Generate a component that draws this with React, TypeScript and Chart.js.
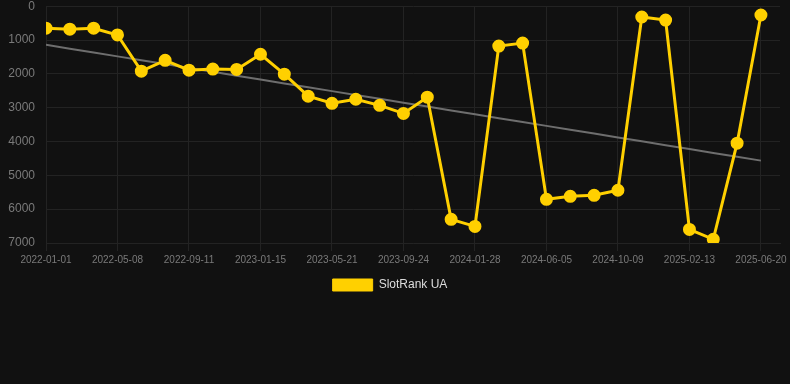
import React, { useEffect, useRef } from "react";
import { Chart, registerables } from "chart.js";

Chart.register(...registerables);

const dates: string[] = [
  "2022-01-01", "2022-02-12", "2022-03-26", "2022-05-08", "2022-06-19", "2022-07-31",
  "2022-09-11", "2022-10-23", "2022-12-04", "2023-01-15", "2023-02-26", "2023-04-09",
  "2023-05-21", "2023-07-02", "2023-08-13", "2023-09-24", "2023-11-05", "2023-12-17",
  "2024-01-28", "2024-03-10", "2024-04-22", "2024-06-05", "2024-07-17", "2024-08-28",
  "2024-10-09", "2024-11-20", "2025-01-01", "2025-02-13", "2025-03-27", "2025-05-08",
  "2025-06-20",
];

const rankValues: number[] = [
  650, 680, 650, 850, 1920, 1600, 1890, 1860, 1870, 1420, 2010, 2660, 2870, 2750, 2930,
  3170, 2690, 6300, 6510, 1180, 1090, 5710, 5620, 5590, 5440, 320, 410, 6600, 6890, 4050,
  260,
];

const seriesLabel = "SlotRank UA";

function trend(values: number[]): number[] {
  const n = values.length;
  const mx = (n - 1) / 2;
  const my = values.reduce((a, b) => a + b, 0) / n;
  let num = 0;
  let den = 0;
  values.forEach((v, i) => {
    num += (i - mx) * (v - my);
    den += (i - mx) * (i - mx);
  });
  const slope = num / den;
  return values.map((_, i) => my + slope * (i - mx));
}

export default function App() {
  const ref = useRef<HTMLCanvasElement | null>(null);

  useEffect(() => {
    document.body.style.margin = "0";
    document.body.style.background = "#111111";
    const canvas = ref.current;
    if (!canvas) return;
    const trendValues = trend(rankValues);
    const chart = new Chart(canvas, {
      type: "line",
      data: {
        datasets: [
          {
            label: seriesLabel,
            data: rankValues.map((v, i) => ({ x: i, y: v })),
            borderColor: "#ffd000",
            backgroundColor: "#ffd000",
            borderWidth: 3,
            pointRadius: 5,
            pointHoverRadius: 5,
            pointBackgroundColor: "#ffd000",
            pointBorderColor: "#ffd000",
            tension: 0,
            order: 1,
          },
          {
            label: "trend",
            data: trendValues.map((v, i) => ({ x: i, y: v })),
            borderColor: "#6e6e6e",
            backgroundColor: "#6e6e6e",
            borderWidth: 2,
            pointRadius: 0,
            tension: 0,
            order: 2,
          },
        ],
      },
      options: {
        animation: false,
        responsive: false,
        maintainAspectRatio: false,
        layout: { padding: { left: 0, right: 10, top: 0, bottom: 0 } },
        scales: {
          x: {
            type: "linear",
            min: 0,
            max: 30.8,
            grid: { color: "#232323", tickColor: "#232323" },
            border: { color: "#232323" },
            afterFit: (s: any) => {
              s.paddingLeft = 0;
              s.paddingRight = 0;
            },
            ticks: {
              stepSize: 3,
              includeBounds: false,
              autoSkip: false,
              maxRotation: 0,
              color: "#7a7a7a",
              font: { size: 10 },
              callback: (value: any) => {
                const i = Math.round(Number(value));
                return dates[i] ?? "";
              },
            },
          },
          y: {
            reverse: true,
            min: 0,
            max: 7000,
            grid: { color: "#232323", tickColor: "transparent" },
            border: { color: "#232323" },
            afterFit: (s: any) => {
              s.width = 46;
            },
            ticks: {
              stepSize: 1000,
              color: "#7a7a7a",
              font: { size: 12 },
              callback: (value: any) => String(value),
            },
          },
        },
        plugins: {
          legend: {
            position: "bottom",
            labels: {
              color: "#dddddd",
              boxWidth: 40,
              boxHeight: 12,
              font: { size: 12 },
              filter: (item: any) => item.text === seriesLabel,
              generateLabels: (c: any) => {
                const items = Chart.defaults.plugins.legend.labels.generateLabels(c);
                return items.map((it: any) => ({ ...it, lineWidth: 1 }));
              },
            },
          },
          tooltip: { enabled: false },
        },
      },
    });
    return () => chart.destroy();
  }, []);

  return (
    <div style={{ width: 790, height: 384, background: "#111111", overflow: "hidden" }}>
      <canvas
        ref={ref}
        width={790}
        height={305}
        style={{ display: "block", marginTop: -4 }}
      />
    </div>
  );
}
